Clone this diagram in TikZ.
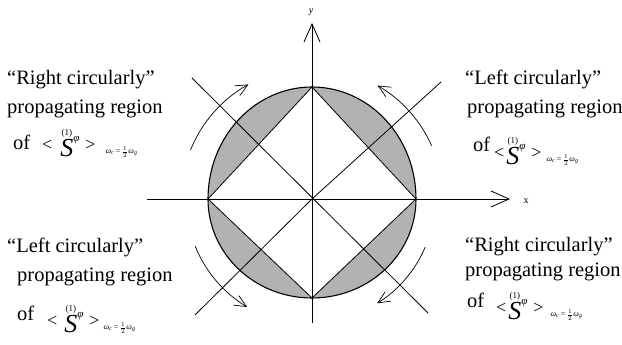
\documentclass[tikz,border=0pt]{standalone}
\usepackage{fontspec}
\setmainfont{Liberation Serif}
\usepackage{tikz}
\usetikzlibrary{arrows.meta}
% first order average of S^phi, #1 gap after <, #2 gap after >
\newcommand{\sphi}[2]{%
  \raisebox{6pt}{\fontsize{18}{18}\selectfont <}\hspace{#1}%
  \shortstack{\fontsize{9}{9}\selectfont (1)\\[-1pt]\fontsize{26}{26}\selectfont\textit{S}}%
  \raisebox{15pt}{\fontsize{11}{11}\selectfont\textit{φ}}\hspace{6pt}%
  \raisebox{6pt}{\fontsize{18}{18}\selectfont >}\hspace{#2}%
  \raisebox{3pt}{\fontsize{8}{8}\selectfont\textit{ω}\textsubscript{\textit{c}}\hspace{1.5pt}=\hspace{1.5pt}$\frac{1}{2}$\hspace{0.5pt}\textit{ω}\textsubscript{\textit{g}}}}

\begin{document}
\begin{tikzpicture}[x=1pt,y=1pt,
  >={Straight Barb[length=18pt,width=16pt]},
  axisline/.style={line width=0.8pt},
  turn/.style={line width=0.7pt,-{Straight Barb[length=12pt,width=11pt]}},
  seg/.style={fill=black!30},
  lbl/.style={inner sep=0pt,anchor=base west,font=\fontsize{20.5}{24}\selectfont},
  ax/.style={inner sep=0pt,font=\fontsize{10}{12}\selectfont}]
  \useasboundingbox (0,0) rectangle (622,345);
  % centre and corners of the diamond (circle a bit flat below, as scanned)
  \coordinate (O) at (312,146);
  \coordinate (T) at (312,258);
  \coordinate (B) at (312,47);
  \coordinate (L) at (208,146);
  \coordinate (R) at (416,146);
  % shaded segments between circle and diamond
  \fill[seg] (R) arc[start angle=0,end angle=90,x radius=104,y radius=112] -- cycle;
  \fill[seg] (T) arc[start angle=90,end angle=180,x radius=104,y radius=112] -- cycle;
  \fill[seg] (L) arc[start angle=180,end angle=270,x radius=104,y radius=99] -- cycle;
  \fill[seg] (B) arc[start angle=270,end angle=360,x radius=104,y radius=99] -- cycle;
  % circle and diamond
  \draw[line width=1.1pt] (R) arc[start angle=0,end angle=180,x radius=104,y radius=112]
    arc[start angle=180,end angle=360,x radius=104,y radius=99];
  \draw[axisline] (T) -- (R) -- (B) -- (L) -- cycle;
  % axes
  \coordinate (xa) at (147,146);
  \coordinate (xb) at (510,146);
  \coordinate (ya) at (312,22);
  \coordinate (yb) at (312,322);
  \draw[->,axisline] (xa) -- (xb);
  \draw[->,axisline] (ya) -- (yb);
  \node[ax] (xlab) at (526,144) {x};
  \node[ax] (ylab) at (311,333) {\textit{y}};
  % diagonals
  \coordinate (dTL) at (192,267);
  \coordinate (dBR) at (428,32);
  \coordinate (dTR) at (441,263);
  \coordinate (dBL) at (195,30);
  \draw[axisline] (dTL) -- (dBR);
  \draw[axisline] (dTR) -- (O) -- (dBL);
  % sense of rotation
  \coordinate (tlA) at ([shift={(158:131)}]O);
  \coordinate (trA) at ([shift={(24:131)}]O);
  \coordinate (blA) at ([shift={(202:126)}]O);
  \coordinate (brA) at ([shift={(-23:123)}]O);
  \draw[turn] (tlA) arc[start angle=158,end angle=119,radius=131];
  \draw[turn] (trA) arc[start angle=24,end angle=60,radius=131];
  \draw[turn] (blA) arc[start angle=202,end angle=239,radius=126];
  \draw[turn] (brA) arc[start angle=-23,end angle=-58,radius=123];
  % labels, top left
  \node[lbl] (tl1) at (7,260) {“Right circularly”};
  \node[lbl] (tl2) at (7,231) {propagating region};
  \node[lbl] (tl3) at (13,195) {of};
  \node[lbl] (tl4) at (42,188) {\sphi{8pt}{10pt}};
  % labels, top right
  \node[lbl] (tr1) at (465,260) {“Left circularly”};
  \node[lbl] (tr2) at (467,231) {propagating region};
  \node[lbl] (tr3) at (473,193) {of};
  \node[lbl] (tr4) at (494,180) {\sphi{2pt}{5pt}};
  % labels, bottom left
  \node[lbl] (bl1) at (7,92) {“Left circularly”};
  \node[lbl] (bl2) at (17,63) {propagating region};
  \node[lbl] (bl3) at (17,24) {of};
  \node[lbl] (bl4) at (47,12) {\sphi{7pt}{4pt}};
  % labels, bottom right
  \node[lbl] (br1) at (465,93) {“Right circularly”};
  \node[lbl] (br2) at (465,68) {propagating region};
  \node[lbl] (br3) at (467,37) {of};
  \node[lbl] (br4) at (496,25) {\sphi{2pt}{7pt}};
\end{tikzpicture}
\end{document}
